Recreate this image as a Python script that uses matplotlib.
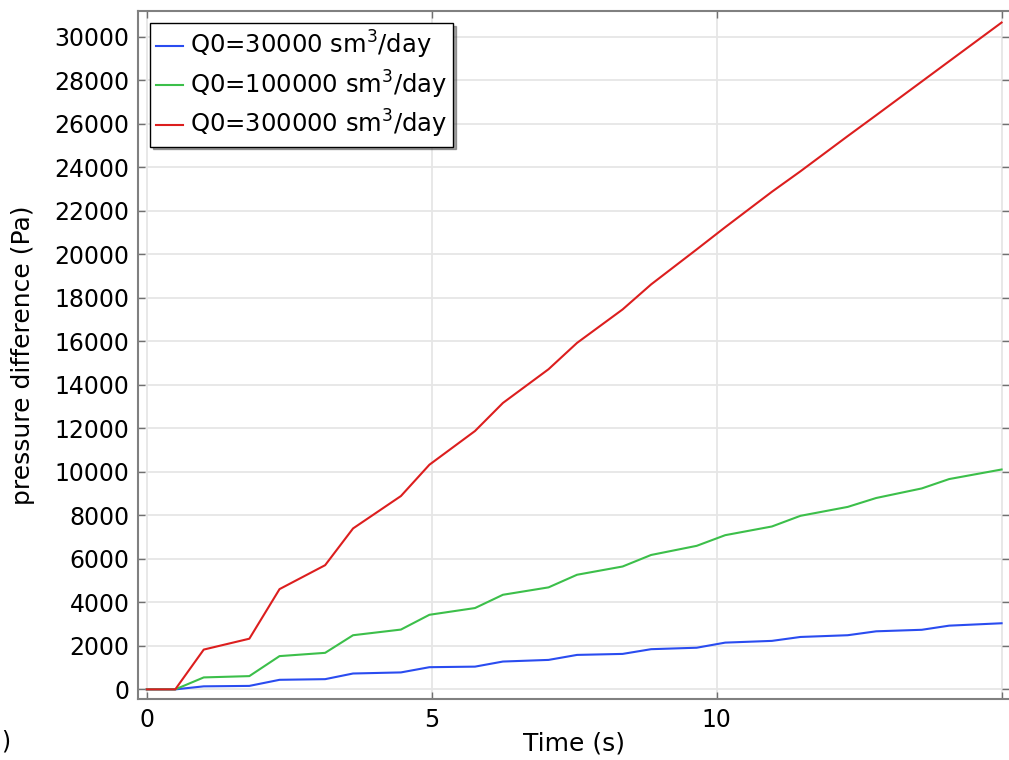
import numpy as np
import matplotlib
matplotlib.use("Agg")
from matplotlib import pyplot as plt

# time samples (s) and pressure difference (Pa) for the three flow rates
time_s = [0, 0.5, 1.0, 1.8, 2.33, 3.13, 3.62, 4.46, 4.96, 5.76, 6.25, 7.05,
          7.55, 8.35, 8.85, 9.65, 10.15, 10.97, 11.47, 12.3, 12.8, 13.6, 14.08, 15.0]
dp_q30k = [0, 0, 140, 160, 440, 470, 730, 780, 1020, 1046, 1280, 1355,
           1585, 1631, 1848, 1915, 2150, 2230, 2410, 2490, 2670, 2740, 2930, 3040]
dp_q100k = [0, 0, 550, 610, 1530, 1680, 2490, 2750, 3430, 3740, 4350, 4690,
            5270, 5650, 6180, 6600, 7090, 7490, 7980, 8390, 8800, 9240, 9670, 10110]
dp_q300k = [0, 0, 1830, 2330, 4610, 5710, 7400, 8890, 10330, 11880, 13170, 14720,
            15930, 17470, 18620, 20230, 21250, 22880, 23820, 25440, 26400, 27950, 28880, 30660]

labels = ["Q0=30000 sm$^3$/day", "Q0=100000 sm$^3$/day", "Q0=300000 sm$^3$/day"]
colors = ["#2a4cf0", "#3cbf4a", "#dc1e1e"]

plt.rcParams['font.family'] = 'DejaVu Sans'
plt.rcParams['mathtext.fontset'] = 'dejavusans'

fig = plt.figure(figsize=(10.09, 7.6), dpi=100)
ax = fig.add_axes([0.1368, 0.0799, 0.8632, 0.9056])

for y, lab, c in zip([dp_q30k, dp_q100k, dp_q300k], labels, colors):
    ax.plot(time_s, y, color=c, linewidth=1.5, label=lab)

ax.set_xlim(-0.153, 15.13)
ax.set_ylim(-455, 31190)
ax.set_xticks([0, 5, 10, 15])
ax.set_xticklabels(["0", "5", "10", ""])
ax.set_yticks(np.arange(0, 30001, 2000))

ax.grid(True, color="#e6e6e6", linewidth=1.3)
ax.set_axisbelow(True)

ax.tick_params(direction="in", length=5, width=1, color="#707070",
               labelsize=17, pad=6, top=True, right=True)
for side in ["left", "bottom", "top"]:
    ax.spines[side].set_color("#808080")
    ax.spines[side].set_linewidth(1.5)
ax.spines["right"].set_visible(False)

ax.set_xlabel("Time (s)", fontsize=18, labelpad=0)
ax.set_ylabel("pressure difference (Pa)", fontsize=18, labelpad=14)

leg = ax.legend(loc="upper left", fontsize=17.5, frameon=True, fancybox=False,
                shadow=True, handlelength=1.1, handletextpad=0.3,
                borderpad=0.25, labelspacing=0.3, borderaxespad=0.5)
leg.get_frame().set_edgecolor("black")
leg.get_frame().set_linewidth(1.0)

fig.text(0.001, 0.015, ")", fontsize=17)

plt.savefig("out.png", dpi=100)
